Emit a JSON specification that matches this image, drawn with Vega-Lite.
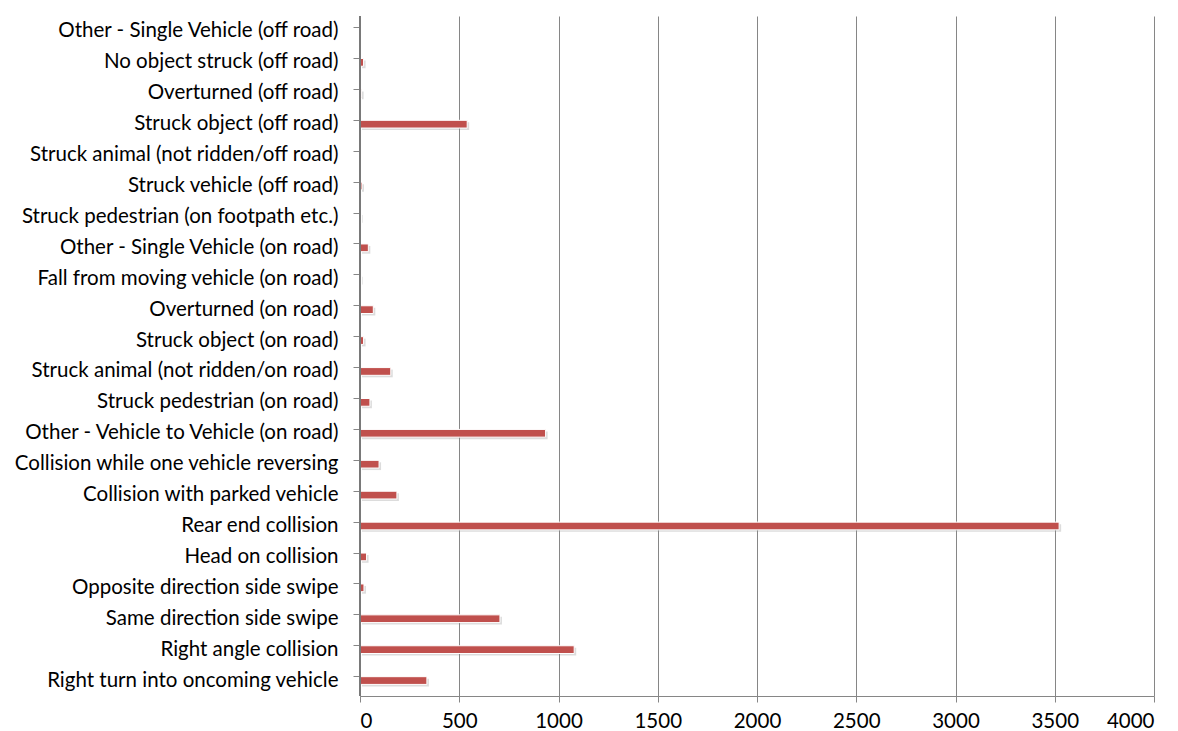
{
  "$schema": "https://vega.github.io/schema/vega-lite/v6.json",
  "width": 794,
  "height": 680,
  "autosize": {"type": "none"},
  "padding": {"left": 360, "top": 16, "right": 24, "bottom": 35},
  "background": "white",
  "config": {"view": {"stroke": null}, "font": "Lato"},
  "data": {
    "values": [
      {"type": "Other -  Single Vehicle (off road)", "count": 0},
      {"type": "No object struck (off road)", "count": 18},
      {"type": "Overturned (off road)", "count": 8},
      {"type": "Struck object (off road)", "count": 540},
      {"type": "Struck animal (not ridden/off road)", "count": 0},
      {"type": "Struck vehicle (off road)", "count": 10},
      {"type": "Struck pedestrian (on footpath etc.)", "count": 3},
      {"type": "Other - Single Vehicle (on road)", "count": 42},
      {"type": "Fall from moving vehicle (on road)", "count": 3},
      {"type": "Overturned (on road)", "count": 67},
      {"type": "Struck object (on road)", "count": 18},
      {"type": "Struck animal (not ridden/on road)", "count": 155},
      {"type": "Struck pedestrian (on road)", "count": 50},
      {"type": "Other - Vehicle to Vehicle (on road)", "count": 935},
      {"type": "Collision while one vehicle reversing", "count": 96},
      {"type": "Collision with parked vehicle", "count": 186},
      {"type": "Rear end collision", "count": 3522},
      {"type": "Head on collision", "count": 33},
      {"type": "Opposite direction side swipe", "count": 20},
      {"type": "Same direction side swipe", "count": 705},
      {"type": "Right angle collision", "count": 1079},
      {"type": "Right turn into oncoming vehicle", "count": 337}
    ]
  },
  "layer": [
    {
      "mark": {"type": "bar", "color": "#8c8c8c", "opacity": 0.3, "xOffset": 2, "yOffset": 2},
      "encoding": {
        "y": {
          "field": "type",
          "type": "nominal",
          "sort": null,
          "scale": {"paddingInner": 0.75, "paddingOuter": 0.375},
          "axis": {
            "title": null,
            "bandPosition": 0,
            "tickSize": 7,
            "tickColor": "#868686",
            "domainColor": "#868686",
            "labelFontSize": 20.5,
            "labelColor": "#000000",
            "labelPadding": 15,
            "labelLimit": 400,
            "grid": false
          }
        },
        "x": {
          "field": "count",
          "type": "quantitative",
          "scale": {"domain": [0, 4000], "nice": false},
          "axis": {
            "title": null,
            "values": [0, 500, 1000, 1500, 2000, 2500, 3000, 3500, 4000],
            "format": "d",
            "grid": true,
            "gridColor": "#868686",
            "gridOpacity": 1,
            "tickSize": 6,
            "tickColor": "#868686",
            "domainColor": "#868686",
            "labelFontSize": 20.5,
            "labelColor": "#000000",
            "labelPadding": 9
          }
        }
      }
    },
    {
      "mark": {"type": "bar", "color": "#C0504D", "stroke": "white", "strokeWidth": 1},
      "encoding": {
        "y": {"field": "type", "type": "nominal", "sort": null},
        "x": {"field": "count", "type": "quantitative"}
      }
    },
    {
      "mark": {"type": "rule", "color": "#7a7a7a", "strokeWidth": 1.5},
      "encoding": {"x": {"datum": 0}}
    }
  ]
}
